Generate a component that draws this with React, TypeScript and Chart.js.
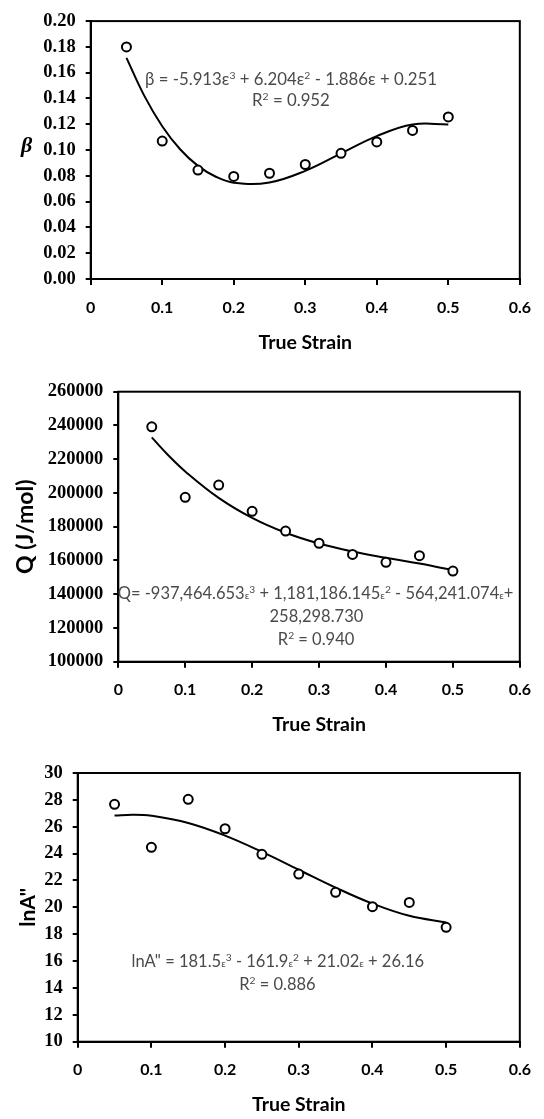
import React, { useEffect, useRef } from "react";
import { Chart, registerables } from "chart.js";
Chart.register(...registerables);

const strain = [0.05, 0.1, 0.15, 0.2, 0.25, 0.3, 0.35, 0.4, 0.45, 0.5];
const xTickValues = [0, 0.1, 0.2, 0.3, 0.4, 0.5, 0.6];

const betaValues = [0.18, 0.107, 0.0845, 0.0795, 0.082, 0.0888, 0.0975, 0.1063, 0.1152, 0.1257];
const betaFitStrain = [0.05, 0.075, 0.1, 0.125, 0.15, 0.175, 0.2, 0.25, 0.3, 0.35, 0.4, 0.45, 0.5];
const betaFitValues = [0.1715, 0.142, 0.1185, 0.1006, 0.0877, 0.0793, 0.0747, 0.0749, 0.0839, 0.0974, 0.1108, 0.1198, 0.1199];
const betaTicks = [0, 0.02, 0.04, 0.06, 0.08, 0.1, 0.12, 0.14, 0.16, 0.18, 0.2];

const qValues = [239200, 197400, 204700, 189100, 177400, 170200, 163600, 158900, 162800, 153700];
const qFitStrain = [0.05, 0.075, 0.1, 0.15, 0.2, 0.25, 0.3, 0.35, 0.4, 0.45, 0.5];
const qFitValues = [232922, 222229, 212749, 197075, 185198, 176415, 170022, 165316, 161594, 158154, 154292];
const qTicks = [100000, 120000, 140000, 160000, 180000, 200000, 220000, 240000, 260000];

const lnAValues = [27.67, 24.47, 28.04, 25.85, 23.95, 22.48, 21.12, 20.05, 20.37, 18.51];
const lnAFitStrain = [0.05, 0.075, 0.1, 0.15, 0.2, 0.25, 0.3, 0.35, 0.4, 0.45, 0.5];
const lnAFitValues = [26.83, 26.9, 26.82, 26.28, 25.34, 24.13, 22.8, 21.47, 20.28, 19.37, 18.88];
const lnATicks = [10, 12, 14, 16, 18, 20, 22, 24, 26, 28, 30];

const frame = {
  id: "frame",
  beforeDatasetsDraw(chart: any) {
    const { ctx, chartArea: a } = chart;
    ctx.save();
    ctx.strokeStyle = "#000";
    ctx.lineWidth = 2;
    ctx.strokeRect(a.left, a.top, a.right - a.left, a.bottom - a.top);
    ctx.restore();
  },
};

// '^c' = superscript char, '_c' = small char on baseline
function parseRich(text: string) {
  const segs: { t: string; kind: string }[] = [];
  let buf = "";
  for (let i = 0; i < text.length; i++) {
    const ch = text[i];
    if ((ch === "^" || ch === "_") && i + 1 < text.length) {
      if (buf) segs.push({ t: buf, kind: "n" });
      buf = "";
      segs.push({ t: text[i + 1], kind: ch === "^" ? "sup" : "small" });
      i++;
    } else buf += ch;
  }
  if (buf) segs.push({ t: buf, kind: "n" });
  return segs;
}

function drawRich(ctx: any, text: string, cx: number, cy: number, size: number) {
  const segs = parseRich(text);
  const fontFor = (k: string) => (k === "n" ? size : size * 0.62) + "px Lato";
  let total = 0;
  const widths = segs.map((s) => {
    ctx.font = fontFor(s.kind);
    const w = ctx.measureText(s.t).width;
    total += w;
    return w;
  });
  let x = cx - total / 2;
  const base = cy + size * 0.36;
  ctx.textAlign = "left";
  ctx.textBaseline = "alphabetic";
  segs.forEach((s, i) => {
    ctx.font = fontFor(s.kind);
    const dy = s.kind === "sup" ? -size * 0.36 : 0;
    ctx.fillText(s.t, x, base + dy);
    x += widths[i];
  });
}

const notes = {
  id: "notes",
  afterDatasetsDraw(chart: any, _args: any, opts: any) {
    const { ctx, chartArea: a } = chart;
    const x = chart.scales.x;
    const y = chart.scales.y;
    ctx.save();
    ctx.fillStyle = "#4a4a4a";
    const lines = opts.lines || [];
    for (let i = 0; i < lines.length; i++) {
      const l = lines[i];
      drawRich(ctx, l.text, x.getPixelForValue(l.x), y.getPixelForValue(l.y), l.size || 16);
    }
    if (opts.side) {
      ctx.font = 'italic bold 22px "Liberation Serif"';
      ctx.fillStyle = "#000";
      ctx.textAlign = "center";
      ctx.textBaseline = "middle";
      ctx.fillText(opts.side, a.left - 64, (a.top + a.bottom) / 2 - 4);
    }
    ctx.restore();
  },
};

type Geo = { left: number; right: number; top: number; bottom: number; titleY: number; H: number };

function makeConfig(
  pts: number[],
  fitX: number[],
  fitY: number[],
  yTicks: number[],
  fmt: (v: number) => string,
  yTitle: string,
  yTitleSize: number,
  yTitlePad: number,
  geo: Geo,
  lines: { text: string; x: number; y: number; size?: number }[],
  side: string
): any {
  const titleSize = 19.5;
  return {
    type: "scatter",
    data: {
      datasets: [
        {
          data: strain.map((s, i) => ({ x: s, y: pts[i] })),
          showLine: false,
          pointStyle: "circle",
          pointRadius: 4.5,
          pointBorderWidth: 2,
          pointBorderColor: "#000",
          pointBackgroundColor: "#fff",
        },
        {
          data: fitX.map((s, i) => ({ x: s, y: fitY[i] })),
          showLine: true,
          pointRadius: 0,
          borderColor: "#000",
          borderWidth: 2,
          tension: 0.4,
          fill: false,
        },
      ],
    },
    options: {
      responsive: false,
      animation: false,
      events: [],
      layout: { padding: { left: 0, top: geo.top, right: 544 - geo.right, bottom: 0 } },
      plugins: {
        legend: { display: false },
        tooltip: { enabled: false },
        notes: { lines, side },
      },
      scales: {
        x: {
          type: "linear",
          min: 0,
          max: 0.6,
          afterBuildTicks: (s: any) => {
            s.ticks = xTickValues.map((v) => ({ value: v }));
          },
          afterFit: (s: any) => {
            s.height = geo.H - geo.bottom;
          },
          ticks: {
            callback: (v: any) => String(v),
            font: { family: "Lato", weight: "bold", size: 16 },
            color: "#000",
            padding: 13,
            maxRotation: 0,
            autoSkip: false,
          },
          grid: { display: true, drawOnChartArea: false, drawTicks: true, tickLength: 6, lineWidth: 2, color: "#000" },
          border: { display: true, color: "#000", width: 2 },
          title: {
            display: true,
            text: "True Strain",
            color: "#000",
            font: { family: "Lato", weight: "bold", size: titleSize },
            padding: { top: 0, bottom: geo.H - geo.titleY - (titleSize * 1.2) / 2 },
          },
        },
        y: {
          type: "linear",
          min: yTicks[0],
          max: yTicks[yTicks.length - 1],
          afterBuildTicks: (s: any) => {
            s.ticks = yTicks.map((v) => ({ value: v }));
          },
          afterFit: (s: any) => {
            s.width = geo.left;
          },
          ticks: {
            callback: (v: any) => fmt(v),
            font: { family: "Liberation Serif", weight: "bold", size: 18.5 },
            color: "#000",
            padding: 10,
            autoSkip: false,
          },
          grid: { display: true, drawOnChartArea: false, drawTicks: true, tickLength: 5, lineWidth: 2, color: "#000" },
          border: { display: true, color: "#000", width: 2 },
          title: {
            display: yTitle !== "",
            text: yTitle,
            color: "#000",
            font: { family: "Lato", weight: "bold", size: yTitleSize },
            padding: { top: yTitlePad, bottom: 0 },
          },
        },
      },
    },
    plugins: [frame, notes],
  };
}

function Panel({ top, height, config }: { top: number; height: number; config: () => any }) {
  const ref = useRef<HTMLCanvasElement | null>(null);
  useEffect(() => {
    const chart = new Chart(ref.current as HTMLCanvasElement, config());
    return () => chart.destroy();
  }, []);
  return (
    <div style={{ position: "absolute", left: 0, top, width: 544, height }}>
      <canvas ref={ref} width={544} height={height} style={{ width: 544, height, display: "block" }} />
    </div>
  );
}

const geo1: Geo = { left: 90.7, right: 531.7, top: 11.7, bottom: 279, titleY: 342.7, H: 365 };
const geo2: Geo = { left: 118.3, right: 532.5, top: 26.7, bottom: 296.7, titleY: 360, H: 375 };
const geo3: Geo = { left: 77.7, right: 532.5, top: 33, bottom: 301.7, titleY: 365, H: 379 };

export default function App() {
  return (
    <div style={{ position: "absolute", left: 0, top: 0, width: 544, height: 1119, background: "#fff", overflow: "hidden" }}>
      <Panel
        top={0}
        height={365}
        config={() =>
          makeConfig(
            betaValues,
            betaFitStrain,
            betaFitValues,
            betaTicks,
            (v) => v.toFixed(2),
            "",
            22,
            0,
            geo1,
            [
              { text: "β = -5.913ε^3 + 6.204ε^2 - 1.886ε + 0.251", x: 0.28, y: 0.155, size: 16.8 },
              { text: "R^2 = 0.952", x: 0.28, y: 0.139, size: 16.8 },
            ],
            "β"
          )
        }
      />
      <Panel
        top={365}
        height={375}
        config={() =>
          makeConfig(
            qValues,
            qFitStrain,
            qFitValues,
            qTicks,
            (v) => String(v),
            "Q (J/mol)",
            23,
            12,
            geo2,
            [
              { text: "Q= -937,464.653_ε^3 + 1,181,186.145_ε^2 - 564,241.074_ε+", x: 0.2948, y: 140530, size: 16.5 },
              { text: "258,298.730", x: 0.296, y: 127080, size: 16.5 },
              { text: "R^2 = 0.940", x: 0.2955, y: 113450, size: 16.5 },
            ],
            ""
          )
        }
      />
      <Panel
        top={740}
        height={379}
        config={() =>
          makeConfig(
            lnAValues,
            lnAFitStrain,
            lnAFitValues,
            lnATicks,
            (v) => String(v),
            'lnA"',
            21,
            16,
            geo3,
            [
              { text: 'lnA" = 181.5_ε^3 - 161.9_ε^2 + 21.02_ε + 26.16', x: 0.2715, y: 16.02, size: 16.5 },
              { text: "R^2 = 0.886", x: 0.271, y: 14.29, size: 16.5 },
            ],
            ""
          )
        }
      />
    </div>
  );
}
